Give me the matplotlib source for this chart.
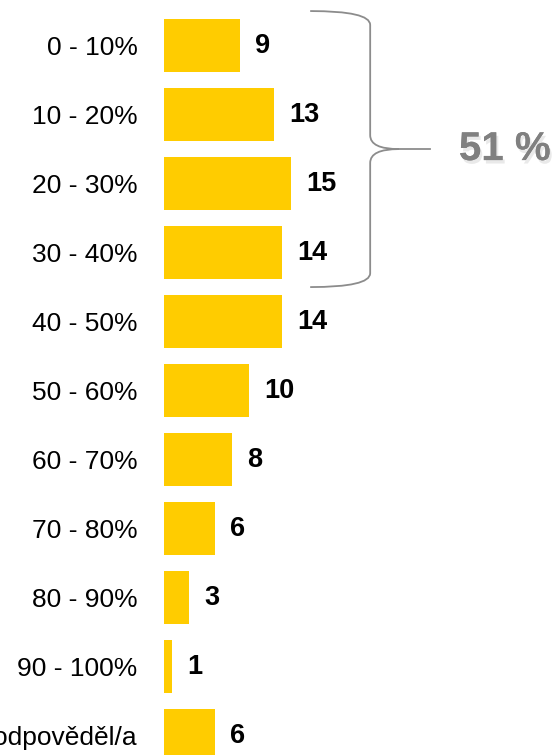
import matplotlib
matplotlib.use("Agg")
import matplotlib.pyplot as plt
import matplotlib.patheffects as pe
from matplotlib.path import Path
from matplotlib.patches import PathPatch

# data
categories = ["0 - 10%", "10 - 20%", "20 - 30%", "30 - 40%", "40 - 50%",
              "50 - 60%", "60 - 70%", "70 - 80%", "80 - 90%", "90 - 100%",
              "Neví/neodpověděl/a"]
values = [9, 13, 15, 14, 14, 10, 8, 6, 3, 1, 6]
brace_rows = [0, 1, 2, 3]
brace_label = "51 %"

font = ["Liberation Sans Narrow", "Liberation Sans", "DejaVu Sans"]
plt.rcParams["font.family"] = font

fig = plt.figure(figsize=(5.59, 7.55), dpi=100)
ax = fig.add_axes([164 / 559, 0, 1 - 164 / 559, 1])

ypos = list(range(len(categories)))
ax.barh(ypos, values, height=0.77, color="#FFCC00")

for y, v in zip(ypos, values):
    ax.annotate(str(v), (v, y), xytext=(11, 0), textcoords="offset points",
                va="center", ha="left", fontsize=19.5, fontweight="bold", color="black")

ax.set_yticks(ypos)
ax.set_yticklabels(categories, fontsize=19)
ax.tick_params(axis="y", length=0, pad=19)
ax.set_xticks([])
for s in ax.spines.values():
    s.set_visible(False)

ax.set_xlim(0, (559 - 164) / 8.45)
ax.set_ylim(10.28, -0.66)

# curly brace over first group
top = brace_rows[0] - 0.5
bot = brace_rows[-1] + 0.5
mid = (top + bot) / 2
x0, x1, xt, xe = 17.3, 24.4, 27.8, 31.5
verts = [(x0, top), (x1, top), (x1, top + 0.2),
         (x1, mid - 0.2),
         (x1, mid), (xt, mid),
         (x1, mid), (x1, mid + 0.2),
         (x1, bot - 0.2),
         (x1, bot), (x0, bot)]
codes = [Path.MOVETO, Path.CURVE3, Path.CURVE3,
         Path.LINETO,
         Path.CURVE3, Path.CURVE3,
         Path.CURVE3, Path.CURVE3,
         Path.LINETO,
         Path.CURVE3, Path.CURVE3]
ax.add_patch(PathPatch(Path(verts, codes), fill=False, edgecolor="#8c8c8c", lw=1.3, clip_on=False))
ax.plot([xt, xe], [mid, mid], color="#8c8c8c", lw=1.3, clip_on=False)

ax.text(34.9, mid, brace_label, ha="left", va="center", fontsize=29, fontweight="bold",
        color="#808080",
        path_effects=[pe.withSimplePatchShadow(offset=(1.5, -2.5), shadow_rgbFace="#aaaaaa", alpha=0.25),
                      pe.Normal()])

plt.savefig("out.png", dpi=100)
